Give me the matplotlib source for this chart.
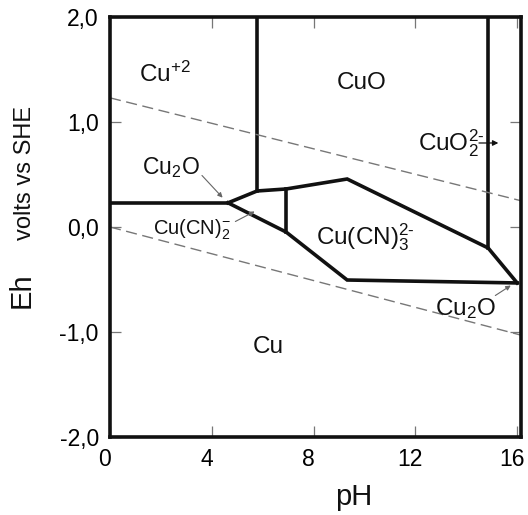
import matplotlib
matplotlib.use('Agg')
import matplotlib.pyplot as plt
import matplotlib.transforms as mtransforms

plt.rcParams['font.family'] = ['Liberation Sans', 'DejaVu Sans']
plt.rcParams['mathtext.default'] = 'regular'

# stability field boundaries (pH, Eh)
horiz_ph = [0.0, 4.64]
horiz_eh = [0.23, 0.23]
cuo_ph = [4.64, 5.78, 6.92, 9.32, 14.86, 16.0]
cuo_eh = [0.23, 0.343, 0.362, 0.457, -0.20, -0.533]
lower_ph = [4.64, 6.92, 9.32, 16.0]
lower_eh = [0.23, -0.048, -0.505, -0.533]
mid_ph = [6.92, 6.92]
mid_eh = [0.362, -0.048]
vert1_ph = [5.78, 5.78]
vert1_eh = [2.0, 0.343]
vert2_ph = [14.86, 14.86]
vert2_eh = [2.0, -0.20]

# water stability lines
o2_ph = [0.0, 16.15]
o2_eh = [1.23, 0.25]
h2_ph = [0.0, 16.15]
h2_eh = [0.0, -1.03]

yticks = [-2, -1, 0, 1, 2]
ytick_labels = ['-2,0', '-1,0', '0,0', '1,0', '2,0']
xticks = [0, 4, 8, 12, 16]

fig = plt.figure(figsize=(5.28, 5.15), dpi=100)
ax = fig.add_axes([0.2083, 0.1515, 0.7784, 0.8155])

lw = 2.6
for xs, ys in [(horiz_ph, horiz_eh), (cuo_ph, cuo_eh), (lower_ph, lower_eh),
               (mid_ph, mid_eh), (vert1_ph, vert1_eh), (vert2_ph, vert2_eh)]:
    ax.plot(xs, ys, color='#111111', lw=lw, solid_joinstyle='miter')

ax.plot(o2_ph, o2_eh, color='#777777', lw=1.0, dashes=(8, 4))
ax.plot(h2_ph, h2_eh, color='#777777', lw=1.0, dashes=(8, 4))

ax.set_xlim(0, 16.15)
ax.set_ylim(-2, 2)
ax.set_xticks(xticks)
ax.set_yticks(yticks)
ax.set_yticklabels(ytick_labels)
ax.tick_params(direction='in', length=8, width=0.9, color='#777777',
               labelsize=16.5, top=True, right=True, pad=8)
for s in ax.spines.values():
    s.set_linewidth(2.6)
    s.set_color('#111111')

# labels sit a little left of their ticks in the original
shift = mtransforms.ScaledTranslation(-5 / 100, 0, fig.dpi_scale_trans)
for lab in ax.get_xticklabels():
    lab.set_transform(lab.get_transform() + shift)

tc = '#111111'
hy = '\u2010'
ax.text(1.15, 1.38, 'Cu$^{+2}$', fontsize=17.5, color=tc, ha='left', va='baseline')
ax.text(9.9, 1.37, 'CuO', fontsize=17.5, color=tc, ha='center', va='center')
ax.text(12.1, 0.73, 'CuO$_2^{2' + hy + '}$', fontsize=17.5, color=tc, ha='left', va='baseline')
ax.text(1.26, 0.50, 'Cu$_2$O', fontsize=16.5, color=tc, ha='left', va='baseline')
ax.text(1.69, -0.076, 'Cu(CN)$_2^{-}$', fontsize=14.5, color=tc, ha='left', va='baseline')
ax.text(8.1, -0.17, 'Cu(CN)$_3^{2' + hy + '}$', fontsize=17.5, color=tc, ha='left', va='baseline')
ax.text(6.84, -1.2, 'Cu', fontsize=17.5, color=tc, ha='right', va='baseline')
ax.text(12.78, -0.84, 'Cu$_2$O', fontsize=17.5, color=tc, ha='left', va='baseline')

# leader lines and arrows
thin = dict(arrowstyle='-|>', color='#666666', lw=0.8, mutation_scale=7)
ax.annotate('', xy=(4.5, 0.26), xytext=(3.54, 0.51), arrowprops=thin)
ax.annotate('', xy=(5.78, 0.16), xytext=(4.83, 0.04), arrowprops=thin)
ax.annotate('', xy=(15.84, -0.543), xytext=(15.05, -0.667), arrowprops=thin)
ax.annotate('', xy=(15.37, 0.80), xytext=(14.39, 0.80),
            arrowprops=dict(arrowstyle='-|>', color='#111111', lw=0.9, mutation_scale=8))

fig.text(354 / 528, 1 - 497 / 515, 'pH', fontsize=21, color=tc, ha='center', va='center')
fig.text(36 / 528, 1 - 290 / 515, 'Eh', fontsize=21, color=tc, rotation=90,
         ha='right', va='center')
fig.text(36 / 528, 1 - 173 / 515, 'volts vs SHE', fontsize=17, color=tc, rotation=90,
         ha='right', va='center')

fig.savefig('out.png', dpi=100)
